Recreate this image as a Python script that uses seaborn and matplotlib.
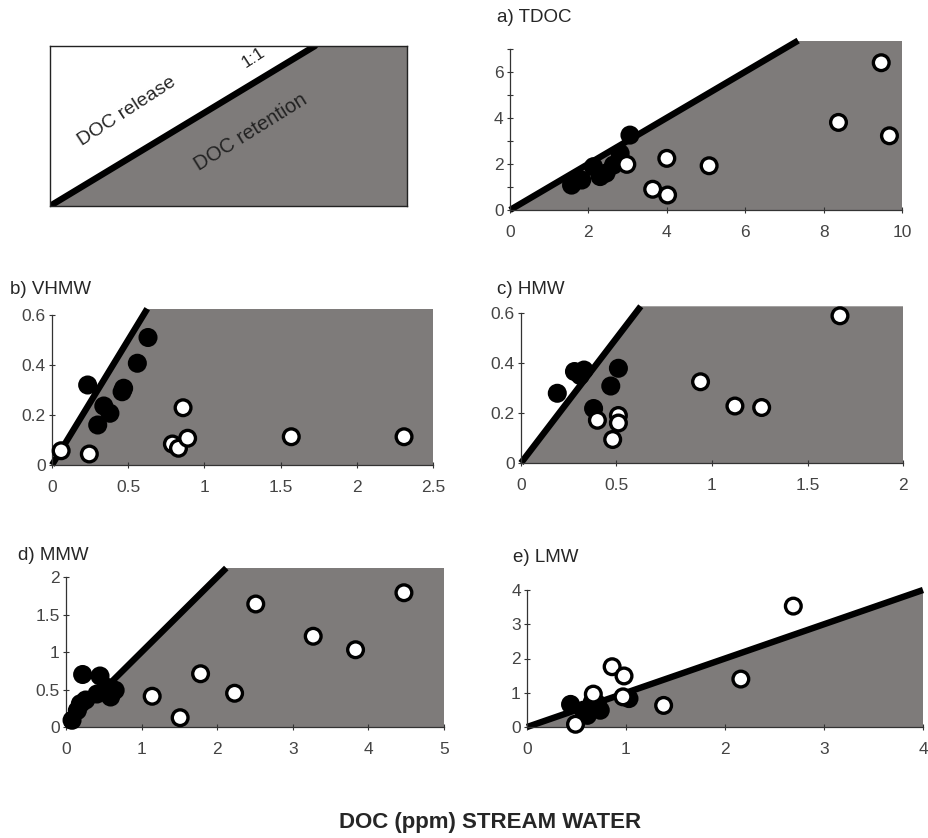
import numpy as np
import pandas as pd
import matplotlib
matplotlib.use("Agg")
import matplotlib.pyplot as plt
import seaborn as sns

# ---- data (x = stream water DOC, y = soil water DOC) ----
tdoc_filled_x = [1.57, 1.62, 1.83, 2.13, 2.3, 2.45, 2.64, 2.81, 3.06]
tdoc_filled_y = [1.08, 1.2, 1.3, 1.88, 1.45, 1.6, 1.95, 2.46, 3.25]
tdoc_open_x = [2.98, 4.0, 3.64, 4.02, 5.08, 8.38, 9.47, 9.68]
tdoc_open_y = [1.98, 2.24, 0.9, 0.65, 1.92, 3.8, 6.39, 3.22]

vhmw_filled_x = [0.234, 0.30, 0.34, 0.38, 0.46, 0.47, 0.56, 0.63]
vhmw_filled_y = [0.32, 0.16, 0.236, 0.207, 0.293, 0.307, 0.407, 0.51]
vhmw_open_x = [0.06, 0.245, 0.79, 0.83, 0.86, 0.89, 1.57, 2.31]
vhmw_open_y = [0.057, 0.044, 0.084, 0.067, 0.229, 0.107, 0.113, 0.113]

hmw_filled_x = [0.19, 0.28, 0.33, 0.31, 0.38, 0.47, 0.51]
hmw_filled_y = [0.279, 0.366, 0.372, 0.35, 0.218, 0.308, 0.379]
hmw_open_x = [0.40, 0.51, 0.51, 0.48, 0.94, 1.12, 1.26, 1.67]
hmw_open_y = [0.171, 0.19, 0.16, 0.094, 0.325, 0.228, 0.222, 0.589]

mmw_filled_x = [0.22, 0.45, 0.08, 0.15, 0.19, 0.26, 0.41, 0.54, 0.59, 0.65]
mmw_filled_y = [0.70, 0.68, 0.09, 0.22, 0.31, 0.36, 0.44, 0.53, 0.40, 0.49]
mmw_open_x = [1.14, 1.51, 1.78, 2.23, 2.51, 3.27, 3.83, 4.47]
mmw_open_y = [0.41, 0.124, 0.71, 0.45, 1.64, 1.21, 1.03, 1.79]

lmw_filled_x = [0.44, 0.57, 0.61, 0.66, 0.71, 0.74, 1.03]
lmw_filled_y = [0.66, 0.49, 0.34, 0.73, 0.68, 0.49, 0.83]
lmw_open_x = [0.86, 0.98, 2.69, 2.16, 1.38, 0.67, 0.97, 0.49]
lmw_open_y = [1.76, 1.49, 3.53, 1.40, 0.63, 0.96, 0.88, 0.08]

panel_titles = ["a) TDOC", "b) VHMW", "c) HMW", "d) MMW", "e) LMW"]
xtick_vals = [[0, 2, 4, 6, 8, 10], [0, 0.5, 1, 1.5, 2, 2.5], [0, 0.5, 1, 1.5, 2],
              [0, 1, 2, 3, 4, 5], [0, 1, 2, 3, 4]]
xtick_labels = [["0", "2", "4", "6", "8", "10"], ["0", "0.5", "1", "1.5", "2", "2.5"],
                ["0", "0.5", "1", "1.5", "2"], ["0", "1", "2", "3", "4", "5"],
                ["0", "1", "2", "3", "4"]]
ytick_vals = [[0, 2, 4, 6], [0, 0.2, 0.4, 0.6], [0, 0.2, 0.4, 0.6],
              [0, 0.5, 1, 1.5, 2], [0, 1, 2, 3, 4]]
ytick_labels = [["0", "2", "4", "6"], ["0", "0.2", "0.4", "0.6"], ["0", "0.2", "0.4", "0.6"],
                ["0", "0.5", "1", "1.5", "2"], ["0", "1", "2", "3", "4"]]

sns.set_style("ticks")
plt.rcParams["font.family"] = ["Liberation Sans", "DejaVu Sans"]

GRAY = "#7e7b7a"
W, H = 929, 838
fig = plt.figure(figsize=(W / 100, H / 100), dpi=100)


def make_df(fx, fy, ox, oy):
    return pd.DataFrame({
        "x": fx + ox,
        "y": fy + oy,
        "kind": ["filled"] * len(fx) + ["open"] * len(ox),
    })


def draw_panel(rect, df, xmax, ytop, yaxis_top, i, minor_y=None):
    ax = fig.add_axes(rect)
    ax.set_xlim(0, xmax)
    ax.set_ylim(0, ytop)
    # retention zone: everything below the 1:1 line
    edge = min(ytop, xmax)
    ax.fill([0, edge, xmax, xmax], [0, edge, ytop if edge < xmax else edge, 0],
            color=GRAY, lw=0, zorder=0)
    ax.plot([0, edge], [0, edge], color="black", lw=4.6,
            solid_capstyle="butt", zorder=2, clip_on=False)
    sns.scatterplot(data=df, x="x", y="y", hue="kind",
                    palette={"filled": "black", "open": "white"},
                    edgecolor="black", linewidth=2.4, s=128,
                    legend=False, ax=ax, zorder=3, clip_on=False)
    ax.set_xticks(xtick_vals[i])
    ax.set_xticklabels(xtick_labels[i])
    ax.set_yticks(ytick_vals[i])
    ax.set_yticklabels(ytick_labels[i])
    if minor_y is not None:
        ax.set_yticks(minor_y, minor=True)
    ax.set_xlabel("")
    ax.set_ylabel("")
    sns.despine(ax=ax)
    ax.spines["left"].set_bounds(0, yaxis_top)
    for sp in ("left", "bottom"):
        ax.spines[sp].set_color("#333333")
        ax.spines[sp].set_linewidth(0.9)
    ax.tick_params(axis="both", which="both", direction="inout", length=5,
                   width=0.8, color="#333333", labelsize=12.5,
                   labelcolor="#444444")
    ax.tick_params(axis="x", pad=8)
    ax.tick_params(axis="y", pad=2)
    return ax


def rect_px(left, right, y0, ytop_px):
    return [left / W, 1 - y0 / H, (right - left) / W, (y0 - ytop_px) / H]


# a) TDOC
draw_panel(rect_px(510, 902, 210, 40.6),
           make_df(tdoc_filled_x, tdoc_filled_y, tdoc_open_x, tdoc_open_y),
           10, 7.35, 7, 0, minor_y=[1, 3, 5, 7])
# b) VHMW
draw_panel(rect_px(52, 433, 465, 308.75),
           make_df(vhmw_filled_x, vhmw_filled_y, vhmw_open_x, vhmw_open_y),
           2.5, 0.625, 0.6, 1)
# c) HMW
draw_panel(rect_px(521, 903, 463, 306.3),
           make_df(hmw_filled_x, hmw_filled_y, hmw_open_x, hmw_open_y),
           2, 0.627, 0.6, 2)
# d) MMW
draw_panel(rect_px(66, 444, 727, 568),
           make_df(mmw_filled_x, mmw_filled_y, mmw_open_x, mmw_open_y),
           5, 2.12, 2, 3)
# e) LMW
draw_panel(rect_px(527, 923, 727, 590),
           make_df(lmw_filled_x, lmw_filled_y, lmw_open_x, lmw_open_y),
           4, 4.0, 4, 4)

# schematic key panel
key = fig.add_axes(rect_px(50, 407, 206, 46))
key.set_xlim(0, 1)
key.set_ylim(0, 1)
tip = 0.742
key.fill([0, tip, 1, 1], [0, 1, 1, 0], color=GRAY, lw=0, zorder=0)
key.plot([0, tip], [0, 1], color="black", lw=4.6, solid_capstyle="round", zorder=2)
key.set_xticks([])
key.set_yticks([])
for sp in key.spines.values():
    sp.set_color("#222222")
    sp.set_linewidth(1.0)
key.text(77 / 357, 1 - 65 / 160, "DOC release", rotation=33, fontsize=14,
         ha="center", va="center", transform=key.transAxes)
key.text(203 / 357, 1 - 12 / 160, "1:1", rotation=33, fontsize=12.5,
         ha="center", va="center", transform=key.transAxes)
key.text(201 / 357, 1 - 86 / 160, "DOC retention", rotation=32, fontsize=14.5,
         ha="center", va="center", color="#222222", transform=key.transAxes)

# panel titles
title_pos = [(497, 17), (10, 290), (497, 290), (18, 555), (513, 558)]
for t, (px, py) in zip(panel_titles, title_pos):
    fig.text(px / W, 1 - py / H, t, fontsize=13.5, ha="left", va="center")

fig.text(490 / W, 1 - 822 / H, "DOC (ppm) STREAM WATER", fontsize=16,
         fontweight="bold", ha="center", va="center")

fig.savefig("out.png", dpi=100)
